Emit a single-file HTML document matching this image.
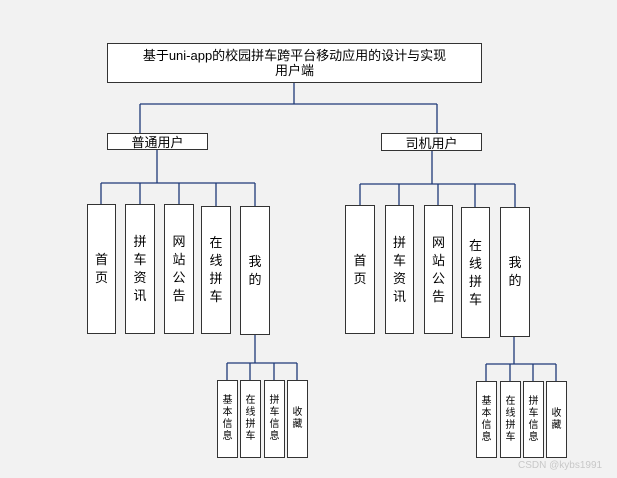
<!DOCTYPE html>
<html><head><meta charset="utf-8"><style>
body{margin:0;width:617px;height:478px;background:#f2f2f2;position:relative;overflow:hidden;font-family:"Liberation Sans","Noto Sans CJK SC",sans-serif;}
.b{position:absolute;background:#fff;border:1.5px solid #333;box-sizing:border-box;display:flex;align-items:center;justify-content:center;text-align:center;color:#000;}
.v{font-size:13px;line-height:18px;width:1em;word-break:break-all;}
.s{font-size:10px;line-height:12px;width:1em;word-break:break-all;}
svg{position:absolute;left:0;top:0;}
</style></head><body>
<svg width="617" height="478"><g stroke="#1f3a78" stroke-width="1.3" fill="none">
<path d="M294 82V104M140 104H437M140 104V133M437 104V133"/>
<path d="M157 149V183M101 183H255M101 183V204M140 183V204M179 183V204M216 183V206M255 183V206"/>
<path d="M432 150V184M360 184H515M360 184V205M399 184V205M438 184V205M475 184V207M515 184V207"/>
<path d="M255 334V363M227 363H297M227 363V380M250 363V380M274 363V380M297 363V380"/>
<path d="M514 336V364M486 364H556M486 364V381M510 364V381M533 364V381M556 364V381"/>
</g></svg>
<div class="b" style="left:107px;top:43px;width:375px;height:40px;font-size:13px;line-height:15px;">基于uni-app的校园拼车跨平台移动应用的设计与实现<br>用户端</div>
<div class="b" style="left:107px;top:133px;width:101px;height:17px;font-size:13px;">普通用户</div>
<div class="b" style="left:381px;top:133px;width:101px;height:18px;font-size:13px;">司机用户</div>

<div class="b" style="left:87px;top:204px;width:29px;height:130px"><span class="v">首页</span></div>
<div class="b" style="left:125px;top:204px;width:30px;height:130px"><span class="v">拼车资讯</span></div>
<div class="b" style="left:164px;top:204px;width:30px;height:130px"><span class="v">网站公告</span></div>
<div class="b" style="left:201px;top:206px;width:30px;height:128px"><span class="v">在线拼车</span></div>
<div class="b" style="left:240px;top:206px;width:30px;height:129px"><span class="v">我的</span></div>

<div class="b" style="left:345px;top:205px;width:30px;height:129px"><span class="v">首页</span></div>
<div class="b" style="left:385px;top:205px;width:29px;height:129px"><span class="v">拼车资讯</span></div>
<div class="b" style="left:424px;top:205px;width:29px;height:129px"><span class="v">网站公告</span></div>
<div class="b" style="left:461px;top:207px;width:29px;height:131px"><span class="v">在线拼车</span></div>
<div class="b" style="left:500px;top:207px;width:30px;height:130px"><span class="v">我的</span></div>

<div class="b" style="left:217px;top:380px;width:21px;height:78px"><span class="s">基本信息</span></div>
<div class="b" style="left:240px;top:380px;width:21px;height:78px"><span class="s">在线拼车</span></div>
<div class="b" style="left:264px;top:380px;width:21px;height:78px"><span class="s">拼车信息</span></div>
<div class="b" style="left:287px;top:380px;width:21px;height:78px"><span class="s">收藏</span></div>

<div class="b" style="left:476px;top:381px;width:21px;height:77px"><span class="s">基本信息</span></div>
<div class="b" style="left:500px;top:381px;width:21px;height:77px"><span class="s">在线拼车</span></div>
<div class="b" style="left:523px;top:381px;width:21px;height:77px"><span class="s">拼车信息</span></div>
<div class="b" style="left:546px;top:381px;width:21px;height:77px"><span class="s">收藏</span></div>

<div style="position:absolute;left:518px;top:460px;font-size:10px;color:#c8c8c8;">CSDN @kybs1991</div>
</body></html>
